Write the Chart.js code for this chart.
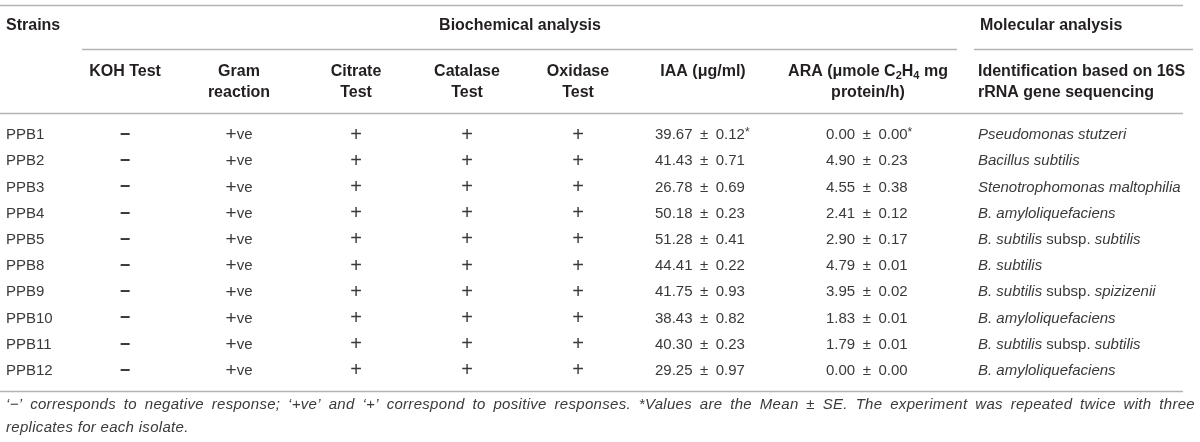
<!DOCTYPE html>
<html>
<head>
<meta charset="utf-8">
<script src="https://cdn.jsdelivr.net/npm/chart.js@4"></script>
<style>
  html, body { margin: 0; padding: 0; background: #fff; }
  canvas { display: block; }
</style>
</head>
<body>
<canvas id="chart" width="1200" height="442"></canvas>
<script>
// table values, one row per strain
const strains = ["PPB1", "PPB2", "PPB3", "PPB4", "PPB5", "PPB8", "PPB9", "PPB10", "PPB11", "PPB12"];
const kohTest = ["−", "−", "−", "−", "−", "−", "−", "−", "−", "−"];
const gramReaction = ["+ve", "+ve", "+ve", "+ve", "+ve", "+ve", "+ve", "+ve", "+ve", "+ve"];
const citrateTest = ["+", "+", "+", "+", "+", "+", "+", "+", "+", "+"];
const catalaseTest = ["+", "+", "+", "+", "+", "+", "+", "+", "+", "+"];
const oxidaseTest = ["+", "+", "+", "+", "+", "+", "+", "+", "+", "+"];
const iaaMean = [39.67, 41.43, 26.78, 50.18, 51.28, 44.41, 41.75, 38.43, 40.30, 29.25];
const iaaSE = [0.12, 0.71, 0.69, 0.23, 0.41, 0.22, 0.93, 0.82, 0.23, 0.97];
const araMean = [0.00, 4.90, 4.55, 2.41, 2.90, 4.79, 3.95, 1.83, 1.79, 0.00];
const araSE = [0.00, 0.23, 0.38, 0.12, 0.17, 0.01, 0.02, 0.01, 0.01, 0.00];
const meanMarks = ["*", "", "", "", "", "", "", "", "", ""];
const identification = [
  "Pseudomonas stutzeri",
  "Bacillus subtilis",
  "Stenotrophomonas maltophilia",
  "B. amyloliquefaciens",
  "B. subtilis subsp. subtilis",
  "B. subtilis",
  "B. subtilis subsp. spizizenii",
  "B. amyloliquefaciens",
  "B. subtilis subsp. subtilis",
  "B. amyloliquefaciens",
];

// header texts
const groupTitles = ["Strains", "Biochemical analysis", "Molecular analysis"];
const columnTitles = [
  ["KOH Test"],
  ["Gram", "reaction"],
  ["Citrate", "Test"],
  ["Catalase", "Test"],
  ["Oxidase", "Test"],
  ["IAA (μg/ml)"],
  ["ARA (μmole C_2H_4 mg", "protein/h)"],
  ["Identification based on 16S", "rRNA gene sequencing"],
];
const footnoteLines = [
  "‘−’ corresponds to negative response; ‘+ve’ and ‘+’ correspond to positive responses. *Values are the Mean ± SE. The experiment was repeated twice with three",
  "replicates for each isolate.",
];

// layout (x in table units of the linear x scale, y in pixels)
const FONT = "'Liberation Sans', Arial, Helvetica, sans-serif";
const cols = [
  { align: "left", x: 6 },
  { align: "center", x: 125 },
  { align: "center", x: 239 },
  { align: "center", x: 356 },
  { align: "center", x: 467 },
  { align: "center", x: 578 },
  { align: "left", x: 655, head: 703, headAlign: "center" },
  { align: "left", x: 826, head: 868, headAlign: "center" },
  { align: "left", x: 978 },
];
const rowsY = { topLine: 5, group: 26, groupLine: 49, head1: 72, head2: 93, headLine: 113, bottomLine: 391, foot1: 405, foot2: 428 };
const lineColor = "#b3b3b3";
const headColor = "#231f20";
const cellColor = "#3a3a3a";
const bodyFont = `15px ${FONT}`;

// draws a list of text runs, each with its own font and offset
const drawRuns = (ctx, runs, px, py, align) => {
  let total = 0;
  runs.forEach((r) => {
    ctx.font = r.font;
    r.w = ctx.measureText(r.text).width;
    total += r.w;
  });
  let cx = align === "center" ? px - total / 2 : px;
  runs.forEach((r) => {
    ctx.font = r.font;
    ctx.fillText(r.text, cx, py + (r.dy || 0));
    cx += r.w;
  });
};

// header text with "_2" style subscripts
const headerRuns = (text) => {
  const runs = [];
  text.split(/(_\d)/).forEach((part) => {
    if (!part) return;
    if (part[0] === "_") runs.push({ text: part.slice(1), font: `bold 11px ${FONT}`, dy: 4 });
    else runs.push({ text: part, font: `bold 16px ${FONT}` });
  });
  return runs;
};

// species names are italic, "subsp." stays upright
const speciesRuns = (name) => {
  const runs = [];
  name.split(/( subsp\. )/).forEach((part) => {
    if (!part) return;
    runs.push({ text: part, font: part === " subsp. " ? bodyFont : `italic ${bodyFont}` });
  });
  return runs;
};

const valueRuns = (mean, se, mark) => [
  { text: `${mean.toFixed(2)}\u2002±\u2002${se.toFixed(2)}`, font: bodyFont },
  { text: mark, font: `12px ${FONT}`, dy: -2 },
];

const signRuns = (sign) => {
  if (sign === "+ve") return [{ text: "+", font: `19px ${FONT}` }, { text: "ve", font: bodyFont }];
  if (sign === "+") return [{ text: "+", font: `20px ${FONT}` }];
  return [{ text: sign, font: `bold 18px ${FONT}` }];
};

const hLine = (ctx, xs, x0, x1, y) => {
  ctx.beginPath();
  ctx.moveTo(xs.getPixelForValue(x0), y + 0.5);
  ctx.lineTo(xs.getPixelForValue(x1), y + 0.5);
  ctx.stroke();
};

const tablePlugin = {
  id: "table",
  afterDraw(chart) {
    const ctx = chart.ctx;
    const xs = chart.scales.x;
    const ys = chart.scales.y;
    ctx.save();
    ctx.textBaseline = "middle";
    ctx.textAlign = "left";

    // rules
    ctx.strokeStyle = lineColor;
    ctx.lineWidth = 1.3;
    hLine(ctx, xs, 0, 1183, rowsY.topLine);
    hLine(ctx, xs, 82, 957, rowsY.groupLine);
    hLine(ctx, xs, 974, 1193, rowsY.groupLine);
    hLine(ctx, xs, 0, 1183, rowsY.headLine);
    hLine(ctx, xs, 0, 1183, rowsY.bottomLine);

    // group titles
    ctx.fillStyle = headColor;
    drawRuns(ctx, headerRuns(groupTitles[0]), xs.getPixelForValue(cols[0].x), rowsY.group, "left");
    drawRuns(ctx, headerRuns(groupTitles[1]), xs.getPixelForValue(520), rowsY.group, "center");
    drawRuns(ctx, headerRuns(groupTitles[2]), xs.getPixelForValue(980), rowsY.group, "left");

    // column titles
    columnTitles.forEach((lines, i) => {
      const c = cols[i + 1];
      const hx = xs.getPixelForValue(c.head !== undefined ? c.head : c.x);
      const ha = c.headAlign || c.align;
      lines.forEach((ln, k) => {
        drawRuns(ctx, headerRuns(ln), hx, k === 0 ? rowsY.head1 : rowsY.head2, ha);
      });
    });

    // body cells
    ctx.fillStyle = cellColor;
    strains.forEach((s, i) => {
      const py = ys.getPixelForValue(i);
      const cells = [
        [{ text: s, font: bodyFont }],
        signRuns(kohTest[i]),
        signRuns(gramReaction[i]),
        signRuns(citrateTest[i]),
        signRuns(catalaseTest[i]),
        signRuns(oxidaseTest[i]),
        valueRuns(iaaMean[i], iaaSE[i], meanMarks[i]),
        valueRuns(araMean[i], araSE[i], meanMarks[i]),
        speciesRuns(identification[i]),
      ];
      cells.forEach((runs, c) => {
        drawRuns(ctx, runs, xs.getPixelForValue(cols[c].x), py, cols[c].align);
      });
    });

    // footnote, first line justified
    ctx.font = `italic 15px ${FONT}`;
    ctx.letterSpacing = "0.3px";
    ctx.fillStyle = cellColor;
    const left = xs.getPixelForValue(6);
    const right = xs.getPixelForValue(1195);
    const words = footnoteLines[0].split(" ");
    const widths = words.map((w) => ctx.measureText(w).width);
    const gap = (right - left - widths.reduce((a, b) => a + b, 0)) / (words.length - 1);
    let fx = left;
    words.forEach((w, k) => {
      ctx.fillText(w, fx, rowsY.foot1);
      fx += widths[k] + gap;
    });
    ctx.fillText(footnoteLines[1], left, rowsY.foot2);
    ctx.restore();
  },
};

new Chart(document.getElementById("chart").getContext("2d"), {
  type: "scatter",
  data: { datasets: [] },
  options: {
    responsive: false,
    animation: false,
    events: [],
    layout: { padding: { top: 122, bottom: 58, left: 0, right: 0 } },
    plugins: { legend: { display: false }, tooltip: { enabled: false } },
    scales: {
      x: { type: "linear", min: 0, max: 1200, display: false },
      y: { type: "category", labels: strains, offset: true, display: false },
    },
  },
  plugins: [tablePlugin],
});
</script>
</body>
</html>
